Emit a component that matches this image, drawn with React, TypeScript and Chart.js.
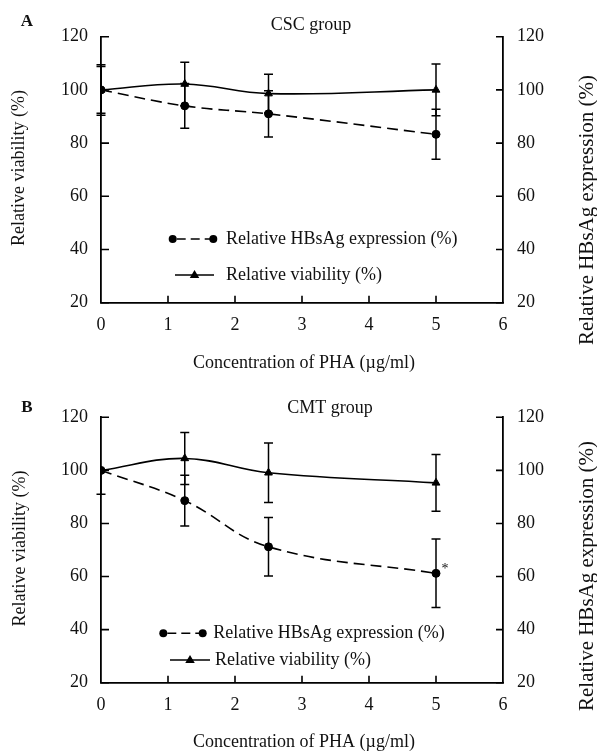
import React, { useEffect, useRef } from "react";
import { Chart, registerables } from "chart.js";

Chart.register(...registerables);

// ---------- data ----------
const concentrations = [0, 1.25, 2.5, 5];
const xTickValues = [0, 1, 2, 3, 4, 5, 6];
const yTickValues = [20, 40, 60, 80, 100, 120];

const cscHBsAg = [100, 94, 91, 83.3];
const cscHBsAgErrUp = [9.5, 8.4, 8.7, 9.4];
const cscHBsAgErrDown = [9.5, 8.4, 8.7, 9.4];
const cscViability = [100, 102.2, 98.6, 100];
const cscViabilityErr = [8.8, 8.2, 7.3, 9.7];

const cmtHBsAg = [100, 88.6, 71.2, 61.2];
const cmtHBsAgErrUp = [0, 9.6, 11, 12.9];
const cmtHBsAgErrDown = [9, 9.6, 11, 12.9];
const cmtViability = [100, 104.5, 99.1, 95.3];
const cmtViabilityErr = [0, 9.8, 11.2, 10.7];
const cmtSignificant = [false, false, false, true];

const hbsagLabel = "Relative HBsAg expression (%)";
const viabilityLabel = "Relative viability (%)";
const xTitle = "Concentration of PHA (\u00b5g/ml)";
const leftTitle = "Relative viability (%)";
const rightTitle = "Relative HBsAg expression (%)";

const SERIF = "'Liberation Serif', 'Times New Roman', serif";
const INK = "#111";

const panels = [
  {
    key: "A",
    top: 0,
    height: 375,
    plotTop: 36.7,
    plotBottom: 302.7,
    letter: "A",
    letterPos: [27, 22],
    group: "CSC group",
    groupPos: [311, 25],
    xTitlePos: [304, 363],
    leftTitlePos: [19, 168],
    rightTitlePos: [587, 210],
    legend: [
      { y: 239, x1: 172.7, x2: 213.3, tx: 226 },
      { y: 275, x1: 175, x2: 214, tx: 226 },
    ],
    hbsag: cscHBsAg,
    hbsagUp: cscHBsAgErrUp,
    hbsagDown: cscHBsAgErrDown,
    viab: cscViability,
    viabErr: cscViabilityErr,
    sig: [false, false, false, false],
  },
  {
    key: "B",
    top: 375,
    height: 376,
    plotTop: 42.3,
    plotBottom: 307.7,
    letter: "B",
    letterPos: [27, 33],
    group: "CMT group",
    groupPos: [330, 33],
    xTitlePos: [304, 367],
    leftTitlePos: [20, 173.5],
    rightTitlePos: [587, 201],
    legend: [
      { y: 258.3, x1: 163.3, x2: 202.7, tx: 213.3 },
      { y: 285, x1: 170, x2: 210, tx: 215 },
    ],
    hbsag: cmtHBsAg,
    hbsagUp: cmtHBsAgErrUp,
    hbsagDown: cmtHBsAgErrDown,
    viab: cmtViability,
    viabErr: cmtViabilityErr,
    sig: cmtSignificant,
  },
];

function drawTriangle(ctx: CanvasRenderingContext2D, x: number, y: number, r: number) {
  ctx.beginPath();
  ctx.moveTo(x, y - r);
  ctx.lineTo(x + r * 0.95, y + r * 0.6);
  ctx.lineTo(x - r * 0.95, y + r * 0.6);
  ctx.closePath();
  ctx.fill();
}

function Panel({ cfg }: { cfg: any }) {
  const ref = useRef<HTMLCanvasElement | null>(null);

  useEffect(() => {
    const canvas = ref.current;
    if (!canvas) return;

    const overlay = {
      id: "overlay" + cfg.key,
      afterDatasetsDraw(chart: any) {
        const ctx: CanvasRenderingContext2D = chart.ctx;
        const xs = chart.scales.x;
        const ys = chart.scales.y;
        const ys2 = chart.scales.y2;
        const area = chart.chartArea;
        ctx.save();
        ctx.strokeStyle = "#000";
        ctx.fillStyle = "#000";
        ctx.lineWidth = 1.6;
        // inner tick marks
        ctx.beginPath();
        for (const v of yTickValues) {
          const py = ys.getPixelForValue(v);
          ctx.moveTo(area.left, py);
          ctx.lineTo(area.left + 8, py);
          const py2 = ys2.getPixelForValue(v);
          ctx.moveTo(area.right, py2);
          ctx.lineTo(area.right - 7, py2);
        }
        for (const v of xTickValues) {
          if (v === 0 || v === 6) continue;
          const px = xs.getPixelForValue(v);
          ctx.moveTo(px, area.bottom);
          ctx.lineTo(px, area.bottom - 7);
        }
        ctx.stroke();

        // error bars
        ctx.lineWidth = 1.5;
        chart.data.datasets.forEach((ds: any, i: number) => {
          const meta = chart.getDatasetMeta(i);
          const scale = chart.scales[ds.yAxisID];
          meta.data.forEach((el: any, j: number) => {
            const v = ds.data[j].y;
            const up = ds.errUp[j];
            const down = ds.errDown[j];
            const x = el.x;
            const cap = 4.5;
            ctx.beginPath();
            if (up > 0) {
              const yt = scale.getPixelForValue(v + up);
              ctx.moveTo(x, el.y);
              ctx.lineTo(x, yt);
              ctx.moveTo(x - cap, yt);
              ctx.lineTo(x + cap, yt);
            }
            if (down > 0) {
              const yb = scale.getPixelForValue(v - down);
              ctx.moveTo(x, el.y);
              ctx.lineTo(x, yb);
              ctx.moveTo(x - cap, yb);
              ctx.lineTo(x + cap, yb);
            }
            ctx.stroke();
            if (ds.sig && ds.sig[j]) {
              ctx.font = `14px ${SERIF}`;
              ctx.fillStyle = INK;
              ctx.textAlign = "center";
              ctx.textBaseline = "middle";
              ctx.fillText("*", x + 9, el.y - 4);
            }
          });
        });

        // legend
        const [r1, r2] = cfg.legend;
        ctx.lineWidth = 1.6;
        ctx.setLineDash([9, 5]);
        ctx.beginPath();
        ctx.moveTo(r1.x1 + 4, r1.y);
        ctx.lineTo(r1.x2, r1.y);
        ctx.stroke();
        ctx.setLineDash([]);
        ctx.fillStyle = "#000";
        for (const px of [r1.x1, r1.x2]) {
          ctx.beginPath();
          ctx.arc(px, r1.y, 4, 0, Math.PI * 2);
          ctx.fill();
        }
        ctx.beginPath();
        ctx.moveTo(r2.x1, r2.y);
        ctx.lineTo(r2.x2, r2.y);
        ctx.stroke();
        drawTriangle(ctx, (r2.x1 + r2.x2) / 2, r2.y, 5);

        ctx.fillStyle = INK;
        ctx.font = `18px ${SERIF}`;
        ctx.textAlign = "left";
        ctx.textBaseline = "middle";
        ctx.fillText(hbsagLabel, r1.tx, r1.y);
        ctx.fillText(viabilityLabel, r2.tx, r2.y);

        // titles
        ctx.textAlign = "center";
        ctx.fillText(cfg.group, cfg.groupPos[0], cfg.groupPos[1]);
        ctx.fillText(xTitle, cfg.xTitlePos[0], cfg.xTitlePos[1]);
        ctx.font = `bold 17px ${SERIF}`;
        ctx.fillText(cfg.letter, cfg.letterPos[0], cfg.letterPos[1]);

        ctx.font = `18px ${SERIF}`;
        ctx.save();
        ctx.translate(cfg.leftTitlePos[0], cfg.leftTitlePos[1]);
        ctx.rotate(-Math.PI / 2);
        ctx.fillText(leftTitle, 0, 0);
        ctx.restore();

        ctx.font = `21px ${SERIF}`;
        ctx.save();
        ctx.translate(cfg.rightTitlePos[0], cfg.rightTitlePos[1]);
        ctx.rotate(-Math.PI / 2);
        ctx.fillText(rightTitle, 0, 0);
        ctx.restore();

        ctx.restore();
      },
    };

    const tickFont = { family: SERIF, size: 18 };
    const setTicks = (vals: number[]) => (s: any) => {
      s.ticks = vals.map((v) => ({ value: v }));
    };

    const chart = new Chart(canvas, {
      type: "line",
      data: {
        datasets: [
          {
            label: hbsagLabel,
            data: concentrations.map((x, i) => ({ x, y: cfg.hbsag[i] })),
            yAxisID: "y2",
            borderColor: "#000",
            backgroundColor: "#000",
            borderWidth: 1.6,
            borderDash: [11, 6],
            tension: 0.4,
            pointStyle: "circle",
            pointRadius: 4,
            pointBackgroundColor: "#000",
            pointBorderColor: "#000",
            pointBorderWidth: 1,
            errUp: cfg.hbsagUp,
            errDown: cfg.hbsagDown,
            sig: cfg.sig,
          } as any,
          {
            label: viabilityLabel,
            data: concentrations.map((x, i) => ({ x, y: cfg.viab[i] })),
            yAxisID: "y",
            borderColor: "#000",
            backgroundColor: "#000",
            borderWidth: 1.6,
            tension: 0.4,
            pointStyle: "triangle",
            pointRadius: 4.5,
            pointBackgroundColor: "#000",
            pointBorderColor: "#000",
            pointBorderWidth: 1,
            errUp: cfg.viabErr,
            errDown: cfg.viabErr,
          } as any,
        ],
      },
      options: {
        animation: false,
        responsive: false,
        devicePixelRatio: 1,
        layout: { padding: { top: cfg.plotTop, left: 0, right: 0, bottom: 0 } },
        plugins: { legend: { display: false }, tooltip: { enabled: false } },
        scales: {
          x: {
            type: "linear",
            min: 0,
            max: 6,
            afterBuildTicks: setTicks(xTickValues),
            afterFit: (s: any) => {
              s.height = cfg.height - cfg.plotBottom;
            },
            grid: { display: false, drawTicks: false },
            border: { display: true, color: "#000", width: 1.8 },
            ticks: { font: tickFont, color: INK, padding: 12, maxRotation: 0, autoSkip: false },
          },
          y: {
            position: "left",
            min: 20,
            max: 120,
            afterBuildTicks: setTicks(yTickValues),
            afterFit: (s: any) => {
              s.width = 101;
            },
            grid: { display: false, drawTicks: false },
            border: { display: true, color: "#000", width: 1.8 },
            ticks: { font: tickFont, color: INK, padding: 13 },
          },
          y2: {
            position: "right",
            min: 20,
            max: 120,
            afterBuildTicks: setTicks(yTickValues),
            afterFit: (s: any) => {
              s.width = 94;
            },
            grid: { display: false, drawTicks: false },
            border: { display: true, color: "#000", width: 1.8 },
            ticks: { font: tickFont, color: INK, padding: 14 },
          },
        },
      } as any,
      plugins: [overlay],
    });

    return () => chart.destroy();
  }, [cfg]);

  return (
    <canvas
      ref={ref}
      width={597}
      height={cfg.height}
      style={{ position: "absolute", left: 0, top: cfg.top, width: 597, height: cfg.height, display: "block" }}
    />
  );
}

export default function App() {
  return (
    <div style={{ position: "absolute", left: 0, top: 0, width: 597, height: 751, background: "#fff" }}>
      {panels.map((p) => (
        <Panel key={p.key} cfg={p} />
      ))}
    </div>
  );
}
